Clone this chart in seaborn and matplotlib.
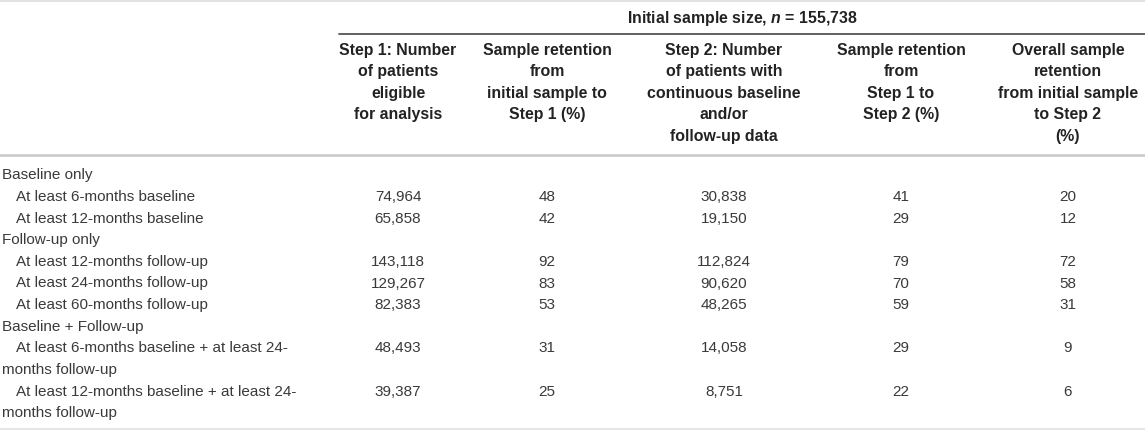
import numpy as np
import pandas as pd
import matplotlib
matplotlib.use("Agg")
import matplotlib.pyplot as plt
import seaborn as sns

# table content
title = r"Initial sample size, $n$ = 155,738"
col_headers = [
    "Step 1: Number\nof patients\neligible\nfor analysis",
    "Sample retention\nfrom\ninitial sample to\nStep 1 (%)",
    "Step 2: Number\nof patients with\ncontinuous baseline\nand/or\nfollow-up data",
    "Sample retention\nfrom\nStep 1 to\nStep 2 (%)",
    "Overall sample\nretention\nfrom initial sample\nto Step 2\n(%)",
]
row_labels = [
    "Baseline only",
    "At least 6-months baseline",
    "At least 12-months baseline",
    "Follow-up only",
    "At least 12-months follow-up",
    "At least 24-months follow-up",
    "At least 60-months follow-up",
    "Baseline + Follow-up",
    "At least 6-months baseline + at least 24-\nmonths follow-up",
    "At least 12-months baseline + at least 24-\nmonths follow-up",
]
is_group = [True, False, False, True, False, False, False, True, False, False]
step1_n = [np.nan, 74964, 65858, np.nan, 143118, 129267, 82383, np.nan, 48493, 39387]
ret_step1 = [np.nan, 48, 42, np.nan, 92, 83, 53, np.nan, 31, 25]
step2_n = [np.nan, 30838, 19150, np.nan, 112824, 90620, 48265, np.nan, 14058, 8751]
ret_step2 = [np.nan, 41, 29, np.nan, 79, 70, 59, np.nan, 29, 22]
overall = [np.nan, 20, 12, np.nan, 72, 58, 31, np.nan, 9, 6]

df = pd.DataFrame({"label": row_labels, "group": is_group,
                   "s1": step1_n, "r1": ret_step1, "s2": step2_n,
                   "r2": ret_step2, "ov": overall})

sns.set_theme(style="white")
plt.rcParams["font.family"] = ["Liberation Sans", "DejaVu Sans"]
plt.rcParams["mathtext.fontset"] = "custom"
plt.rcParams["mathtext.it"] = "Liberation Sans:italic:bold"
plt.rcParams["mathtext.rm"] = "Liberation Sans:bold"

W, H = 1145, 430
fig = plt.figure(figsize=(W / 100, H / 100), dpi=100)
ax = fig.add_axes([0, 0, 1, 1])
ax.set_xlim(0, W)
ax.set_ylim(H, 0)
ax.axis("off")

fs_hdr = 11.4
fs = 11.0
hdr_col = "#222222"
body_col = "#3a3a3a"
col_x = [398, 547, 724, 901, 1068]
line_h = 21.6

# rules
ax.plot([0, W], [0.8, 0.8], color="#dddddd", lw=1.2)
ax.plot([339, W], [33.5, 33.5], color="#555555", lw=1.3)
ax.plot([0, W], [155, 155], color="#c8c8c8", lw=1.8)
ax.plot([0, W], [428.5, 428.5], color="#e2e2e2", lw=1.2)

ax.text(742, 19, title, ha="center", va="center", fontsize=fs_hdr,
        fontweight="bold", color=hdr_col)

for x, h in zip(col_x, col_headers):
    for i, line in enumerate(h.split("\n")):
        ax.text(x, 50 + i * line_h, line, ha="center", va="center",
                fontsize=fs_hdr, fontweight="bold", color=hdr_col)

cols = ["s1", "r1", "s2", "r2", "ov"]
y = 175.5
for _, r in df.iterrows():
    parts = r["label"].split("\n")
    for i, p in enumerate(parts):
        x0 = 2 if (r["group"] or i > 0) else 16
        ax.text(x0, y + i * line_h, p, ha="left", va="center",
                fontsize=fs, color=body_col)
    for x, c in zip(col_x, cols):
        v = r[c]
        if pd.notna(v):
            ax.text(x, y, f"{int(v):,}", ha="center", va="center",
                    fontsize=fs, color=body_col)
    y += line_h * len(parts)

fig.savefig("out.png", dpi=100)
